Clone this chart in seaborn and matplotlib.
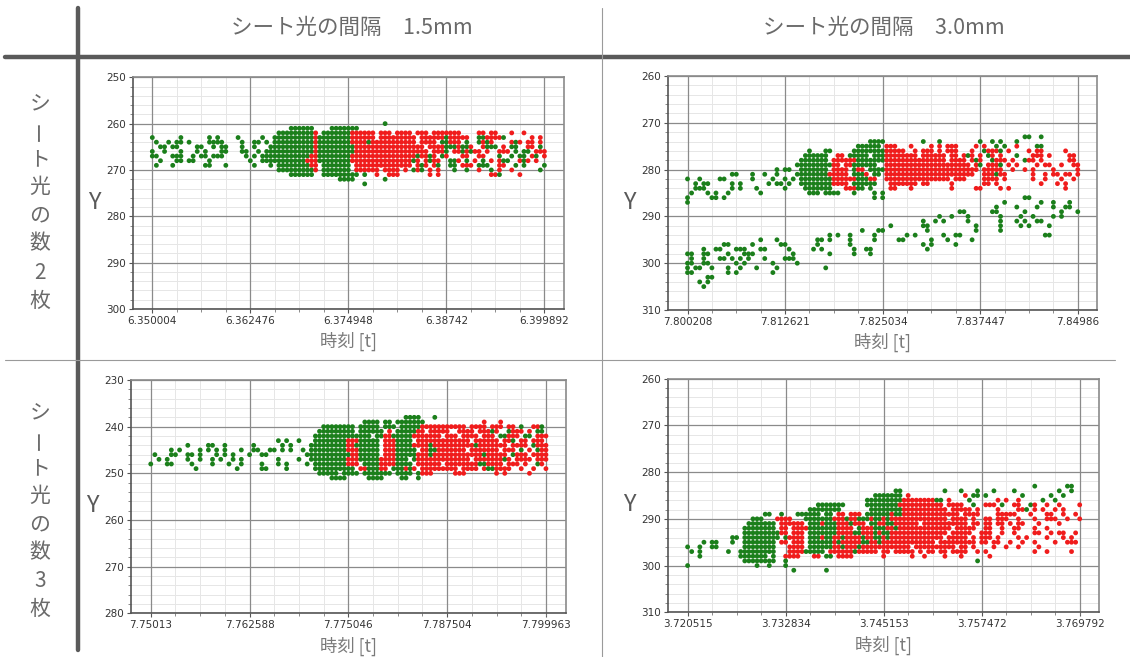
import pandas as pd
import matplotlib
matplotlib.use('Agg')
import matplotlib.pyplot as plt
from matplotlib.lines import Line2D
from matplotlib.ticker import AutoMinorLocator, MultipleLocator
import seaborn as sns

# ---------------------------------------------------------------
# Texts of the table
col_titles = ['シート光の間隔　1.5mm', 'シート光の間隔　3.0mm']
row_titles = [['シ', 'ー', 'ト', '光', 'の', '数', '2', '枚'],
              ['シ', 'ー', 'ト', '光', 'の', '数', '3', '枚']]
x_label = '時刻 [t]'
y_label = 'Y'

# ---------------------------------------------------------------
# Axis ticks of the four panels (time axis and Y range)
p1_xticks = [6.350004, 6.362476, 6.374948, 6.38742, 6.399892]
p2_xticks = [7.800208, 7.812621, 7.825034, 7.837447, 7.84986]
p3_xticks = [7.75013, 7.762588, 7.775046, 7.787504, 7.799963]
p4_xticks = [3.720515, 3.732834, 3.745153, 3.757472, 3.769792]
p1_yrange = (250, 300)
p2_yrange = (260, 310)
p3_yrange = (230, 280)
p4_yrange = (260, 310)

# ---------------------------------------------------------------
# Points.  One string per integer Y value
# (first row = *_y0), one character per time step: 96 steps from the
# first to the last tick, written in blocks of 12 separated by '|'.
# g = green point, r = red point, . = nothing
E = '............'

p1_y0 = 260
p1_rows = [
    E + '|' + E + '|' + E + '|' + E + '|.........g..|' + E + '|' + E + '|' + E + '|.',
    E + '|' + E + '|..........gg|gggg....gggg|ggg.........|' + E + '|' + E + '|' + E + '|.',
    E + '|' + E + '|.......ggggg|ggggr.gggggg|grrrrrr.rrr.|rrrr.rrr.rrr|rrrr....rr.r|r...r..r....|.',
    'g......g....|..g.g....g..|...g..gggggg|ggggrggggggg|grrrrrr.rrrr|rrrrr.rrrrrr|grrrrr..ggrr|rrg......r.r|.',
    '.g..g.gg.g..|..gggg....g.|.gg.g.gggggg|ggggrggggggg|grrrrgrrrrrr|rrrrr.rrrr.g|grrr.g..grgr|....rgr.rr.r|.',
    '..gg.gg....g|g..g.gg...g.|.g...ggggggg|ggggrggggggg|ggrrrrrrrrrr|rrrrrrr.rrrr|gggrggr..rgg|g.r.gg..rr.g|.',
    'g..g...g...g|.g...gg...gg|..g.gggggggg|ggggrggggggg|ggrrrrrrrrrr|rrrrrrrr.rrr|g.rrgrgrr.r.|.rrr.g.gg.rr|r',
    'gg...ggg..g.|gg.ggg.....g|.g.ggggggggg|gggrrggggggg|grrrrrrrrrrr|rrrrrgrrgr.g|r...rr..rr..|.g..g.gg.rg.|r',
    '..g...gg.gg.|..g.........|g..ggggggggg|ggrrrggggggg|grrrrrrrrrrr|rrrrgr.rgrr.|.ggr.g.r.g.r|.rgg..rgr.r.|.',
    '.g...g......|.gg...g.....|.g...g.ggggg|gggrr.gggggg|g.rrrrrrrrrr|rrrr.rgr.rg.|.gg.rrr.ggg.|.rr..g.g....|g',
    E + '|' + E + '|.......ggggg|ggggr.gggggg|g.rrrrrr.rrr|r.r.grg.r.r.|..g..g..r..g|.r..r......g|.',
    E + '|' + E + '|..........gg|gggg..gggggg|ggg.g..r..rr|r.......r.r.|...........r|rg....r.....|.',
    E + '|' + E + '|' + E + '|..........gg|gg.......g..|' + E + '|' + E + '|' + E + '|.',
    E + '|' + E + '|' + E + '|' + E + '|....g.......|' + E + '|' + E + '|' + E + '|.',
]

p2_y0 = 273
p2_rows = [
    E + '|' + E + '|' + E + '|' + E + '|' + E + '|' + E + '|...........g|g..g........|.',
    E + '|' + E + '|' + E + '|.........ggg|g.........g.|..g.........|g..g.g...g..|' + E + '|.',
    E + '|' + E + '|' + E + '|......gggggg|.rrr...r....|r.r.rrr....r|.r..g.g..r..|..gg........|.',
    E + '|' + E + '|......g...gg|.....ggggggg|grrrrr..r.rr|r.r.rrr...r.|.grrrg.r....|r.rr.....r..|.',
    E + '|' + E + '|.....gggggg.|.rr.ggggg.gg|grrrrrrrr.rr|rrrr.rr.rgr.|r.gr.r...g..|.rrr.r....rr|.',
    E + '|' + E + '|....ggggggg.|rrrrrrgggggg|grrrrrrrrrrr|rrrr.rrrr.rg|r..grrr.r..g|rr.r......rr|.',
    E + '|' + E + '|...ggggggggg|rr.rrgggggg.|.rrrrrrrrrrr|rrrrrrrrrr.r|g.rrrg.r.r..|..r.rr..r..r|r',
    E + '|..........g.|gg..ggggggg.|rrrr.grr.ggg|grrrrrrrrrrr|rrrrrrrrrrrr|.rrrrr..r..r|.r....r.....|r',
    '...........g|g...g..g..g.|...ggggggggr|rrrr.gggr.gg|.rrrrrrrrrrr|rrrrrrrrrrr.|.rrrgrr.....|.r..r.rr.rr.|r',
    'g..g....gg..|....g....g..|g.g.gggggggg|rrrrrrgggrr.|.rrrrrrrrrrr|rrrrr.rrr...|.rrrr.r.....|.r..r...r..r|.',
    '..g.gg.....g|.g......g.gg|.g..gggggggg|rrrr.gggggg.|..rrrrrrr.rr|.....r......|.rr.r.......|...r...r.r..|.',
    '..ggg......g|.g...g......|g....ggggggg|...rrrgg.g..|..rr...r....|.....r.....r|r....r.r....|.........r..|.',
    '.g...g.g..g.|......g.....|......ggg.gg|gg...g....g.|g...........|' + E + '|' + E + '|' + E + '|.',
    'g.....gg.g..|' + E + '|' + E + '|..........g.|g...........|' + E + '|...........g|g...........|.',
    'g...........|' + E + '|' + E + '|' + E + '|' + E + '|' + E + '|......g.....|...g..g...g.|.',
    E + '|' + E + '|' + E + '|' + E + '|' + E + '|' + E + '|....g....g..|..g...g..gg.|.',
    E + '|' + E + '|' + E + '|' + E + '|' + E + '|.......gg...|...gg......g|........g...|g',
    E + '|' + E + '|' + E + '|' + E + '|' + E + '|..g..g...g..|.....g....g.|.g....g.g...|.',
    E + '|' + E + '|' + E + '|' + E + '|..........g.|.g.g.....g..|.....g...g.g|..gg........|.',
    E + '|' + E + '|' + E + '|' + E + '|..g.......gg|...........g|.....g....g.|g....g......|.',
    E + '|' + E + '|' + E + '|.......g...g|g..........g|...........g|.....g......|' + E + '|.',
    E + '|' + E + '|...........g|.g..g.....g.|......g.g...|...g..gg....|' + E + '|....gg......|.',
    E + '|......g...g.|........gg.g|....g.....g.|....gg......|g...g.....g.|' + E + '|' + E + '|.',
    '.........gg.|....g......g|g.......g...|....g.......|..........g.|g.....g.....|' + E + '|' + E + '|.',
    '....g..gg...|ggg...gg....|.g.....g.g..|.....g..gg..|...........g|' + E + '|' + E + '|' + E + '|.',
    'gg..gg....g.|..ggg.......|..g........g|.....g...g..|' + E + '|' + E + '|' + E + '|' + E + '|.',
    '.g..g...gg.g|.g.g...g....|ggg.........|' + E + '|' + E + '|' + E + '|' + E + '|' + E + '|.',
    'gg..gg......|g.g......g..|...g........|' + E + '|' + E + '|' + E + '|' + E + '|' + E + '|.',
    'g.gg..g...g.|.g...g....g.|..........g.|' + E + '|' + E + '|' + E + '|' + E + '|' + E + '|.',
    'gg........g.|g........g..|' + E + '|' + E + '|' + E + '|' + E + '|' + E + '|' + E + '|.',
    '.....gg.....|' + E + '|' + E + '|' + E + '|' + E + '|' + E + '|' + E + '|' + E + '|.',
    '...g.g......|' + E + '|' + E + '|' + E + '|' + E + '|' + E + '|' + E + '|' + E + '|.',
    '....g.......|' + E + '|' + E + '|' + E + '|' + E + '|' + E + '|' + E + '|' + E + '|.',
]

p3_y0 = 238
p3_rows = [
    E + '|' + E + '|' + E + '|' + E + '|' + E + '|..gggg...g..|' + E + '|' + E + '|.',
    E + '|' + E + '|' + E + '|' + E + '|....gggg.gg.|ggggggg.....|.........r..|.r..........|.',
    E + '|' + E + '|' + E + '|......gggggg|gg.ggggg.ggg|.gggggrrrrrr|rrrrr.rrrr.r|rr.rr.g..rrg|.',
    E + '|' + E + '|' + E + '|.....ggggggg|gg.gggggg.r.|gggggrr.rrrr|r..rrrr.rrrg|r..grrr.r.gg|.',
    E + '|' + E + '|' + E + '|....gggggggg|gggggg.ggrrg|ggggrrrrrrr.|rrr.rrrr.rrr|.ggrrr.gg.rr|r',
    E + '|' + E + '|.......g.g..|g...gggggggg|rrrggggg.rrr|gggg.rrrrrrr|rrrrrr.rrrrr|r.rrg.rr.rrr|.',
    '.........g..|..gg..g.....|.g......g.g.|...ggggggggg|rrgggggg.rrr|ggggrrrrgrrr|rrrrrrrgrrrr|rrr.rrrr.grr|r',
    '.....g.g....|g.g.g.g...g.|.gg..gg.g.g.|.g.ggggggggg|rrrggggg.rrr|ggggg.rrggrr|rrrrr.rrrrrr|r.rrr.g.r.gr|r',
    '.g...gg..gg.|g...g.g.g...|g..gg.......|..gggggggggg|grrggggg.rrr|gggggrrrgrrr|rrrrrrrrrgrr|rrr.grrr.rrr|r',
    '..g.g....g..|g..g.g..g.g.|.......g....|g..ggggggggg|rrrgggggrrrr|ggg.grrrrrrr|rrrrrr.rrrrr|rrgr.rrrr.rr|r',
    'g...gg....g.|...g...g..g.|...g...g.g..|..g.gggggggg|rrr.ggggrrrr|gggg.rrrrrr.|rrrrrrrrggrr|rr.rrr.r..gr|.',
    '...........g|.........g..|...gg....g..|....gggggggg|gg.rrgggrr.g|ggrgr.rrrrrr|rrr.rrrr.rgg|rrrr..r..r..|r',
    E + '|' + E + '|' + E + '|.....ggggg.g|ggg.ggggggg.|gggg.grrr...|..rrr.......|r.r.....r...|.',
    E + '|' + E + '|' + E + '|........gggg|.....gggg...|.gg..g......|' + E + '|' + E + '|.',
]

p4_y0 = 283
p4_rows = [
    E + '|' + E + '|' + E + '|' + E + '|' + E + '|' + E + '|' + E + '|.g.......gg.|.',
    E + '|' + E + '|' + E + '|' + E + '|...gg.......|...g...g...g|...g....g...|.......g..g.|.',
    E + '|' + E + '|' + E + '|..........gg|ggggg.r.....|........r.gg|.g........g.|.....g..g...|.',
    E + '|' + E + '|' + E + '|........gggg|gggggrrrrrrr|rgg.r....g..|....r.r..r..|...g..g.....|.',
    E + '|' + E + '|........gggg|ggg.....gggg|ggggrrrrrrrr|rrr.rrrr..g.|.rrr.g..rr..|gr..r..r....|r',
    E + '|' + E + '|......gggggg|gg.......ggg|gggggrrrrrrr|rrrr.rrrrr.r|....r....rrg|.r.r..r.r...|.',
    E + '|.......gg..g|...gggggg.gg|.rr.rrr.gggg|ggrggrrrrrrr|rrrrrrr.rrrr|....rrrrr...|r...rr..r..r|.',
    E + '|....ggg...rr|rr...ggggggg|rrrgrrgggrgg|rgrrrrrrrrrr|rrrr.rrrr.r.|.rr.rrr..r..|.r..rrr..r..|r',
    E + '|...ggggggg.r|rrrrr.gggrgg|grrrgrrr.ggr|rggrrrrrr.rr|rrrrrrrrr.rr|.rr.rr.r.rr.|..r....r....|.',
    E + '|..gggggggg.r|r.rrrrgggggg|grrrr.grrrgg|grrgrrrrrrrr|rrrrr.rrrrr.|.rr..r..rr..|.r..r.......|.',
    E + '|..gggggggggr|r.rrr.gggggg|grrrrggrrrgr|ggrrrrrrrrrr|rrrr.rrrrr..|rrr..r..r...|.rr..r.rr..r|.',
    '...........g|g.ggggggggg.|grrrr.gggrgg|rrgrrrrgrrgg|rgrrrrrrrrrr|rrr.rrrrr.r.|rrr.r....r.r|....r...r.r.|.',
    '....g.gg...g|..gggggggg.r|r.rrr.gggggg|rgrrrrrggrrg|rrrrrrrrrrrr|r.rrrrrrrrr.|rr.rr..r..r.|.r....r..rrr|.',
    'g..g..gg....|..gggggggg..|.rrrr.gggggg|rrgrrrgrrrrr|rrrrrrr.rrrr|rrrrrr.rr.r.|...r..r..r..|..r.........|.',
    '.g.g......g.|.ggggggggg..|.rrrrggggg.r|rrrrrgrrrrr.|rr.rrrrr.r.r|r.rr.rrrr..r|.r..........|.r..r.....r.|.',
    '...g........|.ggggggg.g..|rrrr...rr.gg|.rrrr.......|r......r..r.|...r...r....|..r.........|' + E + '|.',
    E + '|..gggggggg..|g...........|' + E + '|' + E + '|...........g|' + E + '|' + E + '|.',
    'g...........|.....g..g...|g...........|' + E + '|' + E + '|' + E + '|' + E + '|' + E + '|.',
    E + '|' + E + '|..g.......g.|' + E + '|' + E + '|' + E + '|' + E + '|' + E + '|.',
]

# ---------------------------------------------------------------
GREEN = '#1b7f1b'
RED = '#f01c1c'
W, H = 1130, 657


def grid_to_frame(rows, y0, xticks):
    recs = []
    t0, t1 = xticks[0], xticks[-1]
    for k, line in enumerate(rows):
        for j, chunk in enumerate(line.split('|')):
            for i, ch in enumerate(chunk[:12]):
                if ch in 'gr':
                    c = 12 * j + i
                    recs.append((t0 + (t1 - t0) * c / 96.0, y0 + k, ch))
    return pd.DataFrame(recs, columns=['t', 'Y', 'col'])


panels = [
    (p1_rows, p1_y0, p1_xticks, p1_yrange, (132.7, 77.3, 564.0, 309.0)),
    (p2_rows, p2_y0, p2_xticks, p2_yrange, (668.0, 76.0, 1097.3, 310.0)),
    (p3_rows, p3_y0, p3_xticks, p3_yrange, (131.0, 380.0, 565.7, 613.3)),
    (p4_rows, p4_y0, p4_xticks, p4_yrange, (668.0, 378.7, 1099.3, 612.3)),
]

sns.set_theme(style='white')
plt.rcParams['font.family'] = ['Noto Sans CJK JP', 'DejaVu Sans']

fig = plt.figure(figsize=(W / 100, H / 100), dpi=100)
fig.patch.set_facecolor('white')

for rows, y0, xticks, yrange, box in panels:
    l, t, r, b = box
    ax = fig.add_axes([l / W, 1 - b / H, (r - l) / W, (b - t) / H])
    df = grid_to_frame(rows, y0, xticks)
    sns.scatterplot(data=df, x='t', y='Y', hue='col', palette={'g': GREEN, 'r': RED},
                    s=12, linewidth=0, legend=False, ax=ax, zorder=3)
    span = xticks[-1] - xticks[0]
    yticks = list(range(yrange[0], yrange[1] + 1, 10))
    ax.set_xlim(xticks[0] - 0.05 * span, xticks[-1] + 0.05 * span)
    ax.set_ylim(yrange[1], yrange[0])
    ax.set_xticks(xticks, [str(v) for v in xticks])
    ax.set_yticks(yticks)
    ax.xaxis.set_minor_locator(AutoMinorLocator(4))
    ax.yaxis.set_minor_locator(MultipleLocator(2))
    ax.set_axisbelow(True)
    # light minor grid underneath, darker major lines on top of it
    ax.grid(which='minor', color='#e6e6e6', lw=0.7)
    ax.grid(which='major', visible=False)
    for v in xticks:
        ax.axvline(v, color='#8a8a8a', lw=0.9, zorder=1)
    for v in yticks:
        ax.axhline(v, color='#8a8a8a', lw=0.9, zorder=1)
    ax.tick_params(which='major', direction='out', length=3, width=0.8, color='#555555',
                   labelsize=7.5, labelcolor='#333333', pad=2, bottom=True, left=True)
    ax.tick_params(which='minor', direction='out', length=2, width=0.6, color='#777777',
                   bottom=True, left=True)
    for lbl in ax.get_xticklabels() + ax.get_yticklabels():
        lbl.set_family('DejaVu Sans')
    for side, sp in ax.spines.items():
        sp.set_visible(True)
        sp.set_color('#555555' if side in ('left', 'bottom') else '#8a8a8a')
        sp.set_linewidth(1.2)
        sp.set_zorder(4)
    ax.set_xlabel(x_label, fontsize=12.5, color='#7a7a7a', va='center')
    ax.xaxis.set_label_coords(0.5, -0.14)
    ax.set_ylabel(y_label, fontsize=17, color='#595959', rotation=0, va='center', ha='center')
    ax.yaxis.set_label_coords(-0.09, 0.46)

# table header and row labels
for txt, x in zip(col_titles, [352, 884]):
    fig.text(x / W, 1 - 28 / H, txt, ha='center', va='center', fontsize=15.5, color='#6a6a6a')

row_y = [[103, 131, 159, 187, 215, 243, 273, 301],
         [412, 440, 468, 496, 524, 552, 581, 609]]
for chars, ys in zip(row_titles, row_y):
    for ch, y in zip(chars, ys):
        fig.text(40 / W, 1 - y / H, ch, ha='center', va='center', fontsize=15,
                 color='#6a6a6a', rotation=(90 if ch == 'ー' else 0))

# table rules
fig.add_artist(Line2D([5 / W, 1.0], [1 - 57 / H, 1 - 57 / H], color='#5a5a5a', lw=3.2))
fig.add_artist(Line2D([78 / W, 78 / W], [1 - 8 / H, 1 - 650 / H], color='#5a5a5a', lw=3.2))
fig.add_artist(Line2D([602 / W, 602 / W], [1 - 8 / H, 0.0], color='#9a9a9a', lw=0.8))
fig.add_artist(Line2D([5 / W, 1115 / W], [1 - 360 / H, 1 - 360 / H], color='#9a9a9a', lw=0.8))

fig.savefig('out.png', dpi=100)
